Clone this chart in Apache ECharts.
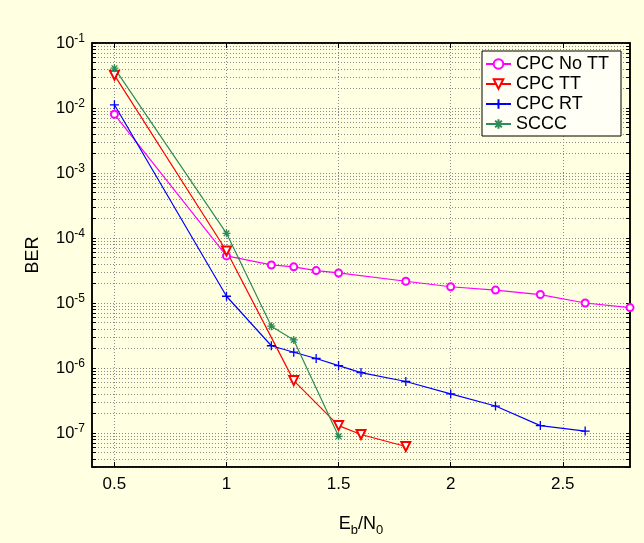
<!DOCTYPE html>
<html>
<head>
<meta charset="utf-8">
<script src="https://cdn.jsdelivr.net/npm/echarts@6/dist/echarts.min.js"></script>
<style>
  html, body { margin: 0; padding: 0; background: #FFFFE1; }
  #main { width: 644px; height: 543px; }
</style>
</head>
<body>
<div id="main"></div>
<script>
// values
const seriesNames = ['CPC No TT', 'CPC TT', 'CPC RT', 'SCCC'];
const noTtX = [0.5, 1, 1.2, 1.3, 1.4, 1.5, 1.8, 2, 2.2, 2.4, 2.6, 2.8];
const noTtBer = [8.0e-3, 5.3e-5, 3.85e-5, 3.6e-5, 3.15e-5, 2.9e-5, 2.16e-5, 1.78e-5, 1.58e-5, 1.35e-5, 1.0e-5, 8.5e-6];
const ttX = [0.5, 1, 1.3, 1.5, 1.6, 1.8];
const ttBer = [3.2e-2, 6.3e-5, 6.4e-7, 1.3e-7, 9.5e-8, 6.2e-8];
const rtX = [0.5, 1, 1.2, 1.3, 1.4, 1.5, 1.6, 1.8, 2, 2.2, 2.4, 2.6];
const rtBer = [1.12e-2, 1.27e-5, 2.2e-6, 1.75e-6, 1.4e-6, 1.09e-6, 8.5e-7, 6.2e-7, 4.0e-7, 2.6e-7, 1.3e-7, 1.07e-7];
const scccX = [0.5, 1, 1.2, 1.3, 1.5];
const scccBer = [4.1e-2, 1.18e-4, 4.4e-6, 2.7e-6, 8.9e-8];

const xTicks = [0.5, 1, 1.5, 2, 2.5];
const yExps = [-7, -6, -5, -4, -3, -2, -1];

const yMin = 3e-8, yMax = 0.1;
const yMajor = yExps.map(e => Math.pow(10, e));
// every 1..9 x 10^k inside the range (gridlines / ticks)
const yAll = [];
for (let e = -8; e <= -1; e++) {
  for (let m = 1; m <= 9; m++) {
    const v = parseFloat((m * Math.pow(10, e)).toPrecision(3));
    if (v >= yMin && v <= yMax) yAll.push(v);
  }
}

const pair = (xs, ys) => xs.map((x, i) => [x, ys[i]]);

const gridLine = { show: true, lineStyle: { color: '#8a8a8a', width: 1, type: [1, 2] } };
const blackLine = { show: true, onZero: false, lineStyle: { color: '#000', width: 1.5 } };
const FONT = 'Liberation Sans, Arial, sans-serif';

const plusPath = 'path://M0 5H10M5 0V10';
const starPath = 'path://M0 5H10M5 0V10M1.5 1.5L8.5 8.5M1.5 8.5L8.5 1.5';

const chart = echarts.init(document.getElementById('main'));
chart.setOption({
  backgroundColor: '#FFFFE1',
  animation: false,
  textStyle: { fontFamily: FONT },
  grid: { left: 92, right: 14, top: 43, bottom: 76, show: true, borderColor: '#000', borderWidth: 1.5 },
  legend: {
    orient: 'vertical',
    left: 482, top: 51,
    padding: [4, 12, 3, 3],
    itemWidth: 25, itemHeight: 12, itemGap: 2,
    backgroundColor: '#FFFFF6',
    borderColor: '#000', borderWidth: 1,
    textStyle: { fontSize: 18, color: '#000', fontFamily: FONT },
    data: seriesNames
  },
  xAxis: [{
    type: 'value', min: 0.4, max: 2.8,
    axisLine: blackLine,
    axisTick: { inside: true, length: 5, customValues: xTicks, lineStyle: { color: '#000' } },
    axisLabel: { customValues: xTicks, fontSize: 17, color: '#000', margin: 9 },
    splitLine: gridLine,
    name: '{a|E}{s|b}{a|/N}{s|0}',
    nameLocation: 'middle', nameGap: 48,
    nameTextStyle: {
      rich: {
        a: { fontSize: 18, color: '#000', fontFamily: FONT },
        s: { fontSize: 13, color: '#000', fontFamily: FONT, verticalAlign: 'bottom', padding: [0, 0, -4, 0] }
      }
    }
  }, {
    type: 'value', min: 0.4, max: 2.8, position: 'top',
    axisLine: blackLine,
    axisTick: { inside: true, length: 5, customValues: xTicks, lineStyle: { color: '#000' } },
    axisLabel: { show: false },
    splitLine: { show: false }
  }],
  yAxis: [{
    type: 'log', logBase: 10, min: yMin, max: yMax,
    axisLine: blackLine,
    axisTick: { inside: true, length: 4, customValues: yAll, lineStyle: { color: '#000' } },
    axisLabel: {
      customValues: yMajor, margin: 7,
      formatter: v => '{b|10}{s|' + Math.round(Math.log10(v)) + '}',
      rich: {
        b: { fontSize: 16.5, color: '#000', fontFamily: FONT },
        s: { fontSize: 12, color: '#000', fontFamily: FONT, verticalAlign: 'top', padding: [0, 0, 8, 0] }
      }
    },
    splitLine: gridLine,
    name: 'BER', nameLocation: 'middle', nameGap: 50,
    nameTextStyle: { fontSize: 18, color: '#000', fontFamily: FONT }
  }, {
    type: 'log', logBase: 10, min: yMin, max: yMax, position: 'right',
    axisLine: blackLine,
    axisTick: { inside: true, length: 4, customValues: yAll, lineStyle: { color: '#000' } },
    axisLabel: { show: false },
    splitLine: { show: false }
  }],
  series: [{
    name: seriesNames[0], type: 'line', data: pair(noTtX, noTtBer),
    color: '#FF00FF', symbol: 'emptyCircle', symbolSize: 7,
    lineStyle: { width: 1.2 }, itemStyle: { borderWidth: 1.2 }
  }, {
    name: seriesNames[1], type: 'line', data: pair(ttX, ttBer),
    color: '#FF0000', symbol: 'emptyTriangle', symbolRotate: 180, symbolSize: 9,
    lineStyle: { width: 1.2 }, itemStyle: { borderWidth: 1.2 }
  }, {
    name: seriesNames[2], type: 'line', data: pair(rtX, rtBer),
    color: '#0000FF', symbol: plusPath, symbolSize: 9,
    lineStyle: { width: 1.2 }, itemStyle: { borderColor: '#0000FF', borderWidth: 1.3 }
  }, {
    name: seriesNames[3], type: 'line', data: pair(scccX, scccBer),
    color: '#2E8B57', symbol: starPath, symbolSize: 8,
    lineStyle: { width: 1.2 }, itemStyle: { borderColor: '#2E8B57', borderWidth: 1.3 }
  }]
});
</script>
</body>
</html>
